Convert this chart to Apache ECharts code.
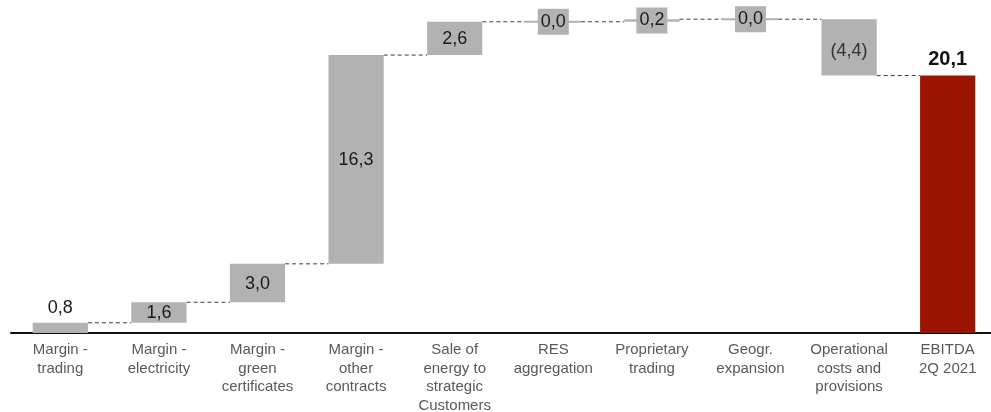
<!DOCTYPE html>
<html>
<head>
<meta charset="utf-8">
<script src="https://cdn.jsdelivr.net/npm/echarts@6/dist/echarts.min.js"></script>
<style>
  html, body { margin: 0; padding: 0; background: #fff; }
  #chart { width: 991px; height: 412px; }
</style>
</head>
<body>
<div id="chart"></div>
<script>
// EBITDA bridge: contribution of each business line to 2Q 2021 EBITDA
const categories = [
  'Margin -\ntrading',
  'Margin -\nelectricity',
  'Margin -\ngreen\ncertificates',
  'Margin -\nother\ncontracts',
  'Sale of\nenergy to\nstrategic\nCustomers',
  'RES\naggregation',
  'Proprietary\ntrading',
  'Geogr.\nexpansion',
  'Operational\ncosts and\nprovisions',
  'EBITDA\n2Q 2021'
];
const deltas = [0.8, 1.6, 3.0, 16.3, 2.6, 0.0, 0.2, 0.0, -4.4];
const totalValue = 20.1;

const GREY = '#b2b2b2';
const RED = '#9a1400';
const FONT = '"Liberation Sans", Arial, sans-serif';

// Build floating segments [index, low, high, value, isTotal]
const segments = [];
const levels = [];
let run = 0;
deltas.forEach((d, i) => {
  const start = run;
  run = Math.round((run + d) * 10) / 10;
  segments.push([i, Math.min(start, run), Math.max(start, run), d, 0]);
  levels.push(run);
});
segments.push([deltas.length, 0, totalValue, totalValue, 1]);
const connectors = levels.map((lv, i) => [i, lv]);

function fmt(v) {
  const s = Math.abs(v).toFixed(1).replace('.', ',');
  return v < 0 ? '(' + s + ')' : s;
}

const BAR_RATIO = 0.56;

const chart = echarts.init(document.getElementById('chart'), null, { renderer: 'canvas' });
chart.setOption({
  animation: false,
  grid: { left: 11, right: -6, top: 0, bottom: 79, outerBoundsMode: 'none', containLabel: false },
  xAxis: {
    type: 'category',
    data: categories,
    axisTick: { show: false },
    axisLine: { lineStyle: { color: '#111', width: 2 } },
    axisLabel: {
      interval: 0,
      margin: 8,
      color: '#595959',
      fontFamily: FONT,
      fontSize: 15,
      lineHeight: 18.5
    }
  },
  yAxis: {
    type: 'value', min: 0, max: 26,
    show: false, splitLine: { show: false }
  },
  series: [
    {
      type: 'custom',
      z: 1,
      data: connectors,
      renderItem(params, api) {
        const i = api.value(0);
        const p = api.coord([i, api.value(1)]);
        const band = api.size([1, 0])[0];
        const bw = band * BAR_RATIO;
        return {
          type: 'line',
          shape: { x1: p[0] + bw / 2, y1: p[1], x2: p[0] + band - bw / 2, y2: p[1] },
          style: { stroke: '#3a3a3a', lineWidth: 1, lineDash: [4, 3] }
        };
      }
    },
    {
      type: 'custom',
      z: 2,
      data: segments,
      renderItem(params, api) {
        const i = api.value(0);
        const lo = api.value(1), hi = api.value(2);
        const v = api.value(3);
        const isTotal = api.value(4) === 1;
        const pTop = api.coord([i, hi]);
        const pBot = api.coord([i, lo]);
        const band = api.size([1, 0])[0];
        const bw = band * BAR_RATIO;
        let top = pTop[1];
        let h = pBot[1] - pTop[1];
        if (h < 2) { top = (pTop[1] + pBot[1]) / 2 - 1; h = 2; }
        const x = pTop[0] - bw / 2;
        const children = [{
          type: 'rect',
          shape: { x: x, y: top, width: bw, height: h },
          style: { fill: isTotal ? RED : GREY }
        }];
        const mid = top + h / 2;
        if (isTotal) {
          children.push({
            type: 'text',
            style: {
              text: fmt(v), x: pTop[0], y: top - 6,
              align: 'center', verticalAlign: 'bottom',
              font: 'bold 20px ' + FONT, fill: '#111'
            }
          });
        } else if (i === 0) {
          children.push({
            type: 'text',
            style: {
              text: fmt(v), x: pTop[0], y: top - 6,
              align: 'center', verticalAlign: 'bottom',
              font: '18px ' + FONT, fill: '#1a1a1a'
            }
          });
        } else if (h < 12) {
          children.push({
            type: 'text',
            style: {
              text: fmt(v), x: pTop[0], y: mid,
              align: 'center', verticalAlign: 'middle',
              font: '18px ' + FONT, fill: '#1a1a1a',
              backgroundColor: GREY, padding: [4, 3, 4, 3]
            }
          });
        } else {
          children.push({
            type: 'text',
            style: {
              text: fmt(v), x: pTop[0], y: mid + (v < 0 ? 4 : 1),
              align: 'center', verticalAlign: 'middle',
              font: '18px ' + FONT, fill: v < 0 ? '#333' : '#1a1a1a'
            }
          });
        }
        return { type: 'group', children: children };
      }
    }
  ]
});
</script>
</body>
</html>
